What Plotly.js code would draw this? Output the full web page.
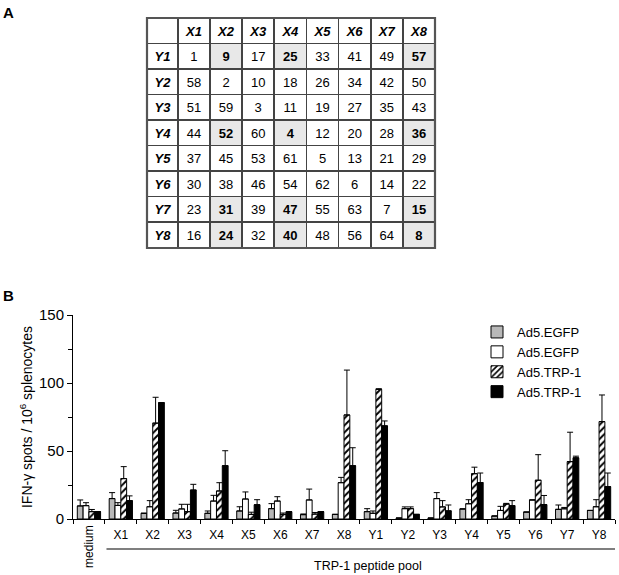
<!DOCTYPE html>
<html>
<head>
<meta charset="utf-8">
<script src="https://cdn.plot.ly/plotly-3.0.1.min.js"></script>
<style>html,body{margin:0;padding:0;background:#fff;}#chart{width:619px;height:575px;}</style>
</head>
<body>
<div id="chart"></div>
<script>
// ---------- Panel A data ----------
var colLabels = ['X1','X2','X3','X4','X5','X6','X7','X8'];
var rowLabels = ['Y1','Y2','Y3','Y4','Y5','Y6','Y7','Y8'];
var gridY1 = [1, 9, 17, 25, 33, 41, 49, 57];
var gridY2 = [58, 2, 10, 18, 26, 34, 42, 50];
var gridY3 = [51, 59, 3, 11, 19, 27, 35, 43];
var gridY4 = [44, 52, 60, 4, 12, 20, 28, 36];
var gridY5 = [37, 45, 53, 61, 5, 13, 21, 29];
var gridY6 = [30, 38, 46, 54, 62, 6, 14, 22];
var gridY7 = [23, 31, 39, 47, 55, 63, 7, 15];
var gridY8 = [16, 24, 32, 40, 48, 56, 64, 8];
var highlightRows = ['Y1','Y4','Y7','Y8'];
var highlightCols = ['X2','X4','X8'];

// ---------- Panel B data ----------
var categories = ['medium','X1','X2','X3','X4','X5','X6','X7','X8','Y1','Y2','Y3','Y4','Y5','Y6','Y7','Y8'];
var seriesNames = ['Ad5.EGFP','Ad5.EGFP','Ad5.TRP-1','Ad5.TRP-1'];
var egfpA     = [9.6, 15, 4.2, 4.4, 4.2, 5.9, 7.6, 3.2, 3.4, 5.4, 0.7, 0.7, 7.4, 2.2, 5.1, 7.1, 6.3];
var egfpAErr  = [4.4, 4.4, null, 2.0, 1.7, 3.1, 3.7, 0.5, null, 2.2, null, null, null, null, null, 3.2, null];
var egfpB     = [9.8, 10, 9, 7.4, 13.2, 14.7, 13.2, 14, 26.7, 4.2, 7.6, 15, 11.2, 6.3, 14, 7.5, 9];
var egfpBErr  = [2.2, 2.0, 4.5, 3.4, 4.2, 5.2, 3.2, 8.0, 3.9, 1.7, 1.3, 4.4, 3.0, 3.0, null, 1.0, 5.2];
var trpA      = [5.4, 29.7, 70.5, 5.4, 20.6, 3.4, 3.4, 3.6, 76.5, 95.3, 7.6, 8.9, 33.3, 11, 28.5, 42.2, 71.6];
var trpAErr   = [1.6, 8.8, 19, 5.4, 6.1, 1.6, 1.0, 1.2, 33, 0.5, 1.3, 4.6, 4.8, 0.5, 18.8, 21.6, 19.6];
var trpB      = [5.4, 13.5, 85.5, 21.3, 39.2, 10.5, 5.4, 5.4, 39.2, 68.5, 3.4, 6.0, 26.8, 9.8, 10.6, 45, 23.8];
var trpBErr   = [null, 3.5, null, 4.2, 11, 3.7, null, null, 13.2, 3.6, null, 4.3, 7.0, 3.7, 6.7, 1.2, 10];

var FONT = 'Liberation Sans, Arial, sans-serif';

// ---------- build table (no markup, so rows keep their height) ----------
var gridRows = [gridY1, gridY2, gridY3, gridY4, gridY5, gridY6, gridY7, gridY8];
var cellCols = [rowLabels.slice()];
var fillCols = [rowLabels.map(function(){return '#ffffff';})];
var weightCols = [rowLabels.map(function(){return 'bold';})];
var styleCols = [rowLabels.map(function(){return 'italic';})];
colLabels.forEach(function(c, ci){
  var vals = [], fills = [], weights = [], styles = [];
  rowLabels.forEach(function(r, ri){
    var hl = highlightRows.indexOf(r) >= 0 && highlightCols.indexOf(c) >= 0;
    vals.push(String(gridRows[ri][ci]));
    fills.push(hl ? '#e8e8e8' : '#ffffff');
    weights.push(hl ? 'bold' : 'normal');
    styles.push('normal');
  });
  cellCols.push(vals); fillCols.push(fills); weightCols.push(weights); styleCols.push(styles);
});
var headerVals = [' '].concat(colLabels);

var W = 619, H = 575;
var tblL = 147, tblR = 435, tblT = 18, tblB = 248;

var tableTrace = {
  type: 'table',
  domain: {x: [tblL / W, tblR / W], y: [1 - tblB / H, 1 - tblT / H]},
  columnwidth: [30.7, 32, 32, 32, 32, 32, 32, 32, 32],
  header: {
    values: headerVals, height: 25.5, align: 'center',
    fill: {color: '#ffffff'},
    line: {color: '#444444', width: 1.6},
    font: {family: FONT, size: 13, color: '#000', weight: 'bold', style: 'italic'}
  },
  cells: {
    values: cellCols, height: 25.5, align: 'center',
    fill: {color: fillCols},
    line: {color: '#444444', width: 1.6},
    font: {family: FONT, size: 13, color: '#000', weight: weightCols, style: styleCols}
  },
  showlegend: false
};

// ---------- bars ----------
function barTrace(name, vals, errs, style) {
  var t = {
    type: 'bar', name: name, x: categories, y: vals,
    marker: {color: style.color, line: {color: '#000', width: 1}},
    error_y: {type: 'data', symmetric: false, array: errs,
              arrayminus: errs.map(function(){return 0;}),
              color: '#000', thickness: 1, width: 3},
    xaxis: 'x', yaxis: 'y'
  };
  if (style.pattern) t.marker.pattern = style.pattern;
  return t;
}
var traces = [
  tableTrace,
  barTrace(seriesNames[0], egfpA, egfpAErr, {color: '#b8b8b8'}),
  barTrace(seriesNames[1], egfpB, egfpBErr, {color: '#ffffff'}),
  barTrace(seriesNames[2], trpA, trpAErr, {color: '#ffffff',
      pattern: {shape: '/', fgcolor: '#000', bgcolor: '#ffffff', size: 5, solidity: 0.4, fillmode: 'replace'}}),
  barTrace(seriesNames[3], trpB, trpBErr, {color: '#000000'})
];

var axL = 73, axR = 615, axTop = 315, axBot = 519;

var layout = {
  width: W, height: H,
  margin: {l: 0, r: 0, t: 0, b: 0},
  paper_bgcolor: '#fff', plot_bgcolor: 'rgba(0,0,0,0)',
  font: {family: FONT, color: '#000'},
  barmode: 'group', bargap: 0.27, bargroupgap: 0,
  showlegend: true,
  legend: {x: 477 / W, y: 1 - 317 / H, xanchor: 'left', yanchor: 'top',
           font: {family: FONT, size: 13}, bgcolor: 'rgba(0,0,0,0)', tracegroupgap: 0},
  xaxis: {
    domain: [axL / W, axR / W], type: 'category', categoryorder: 'array', categoryarray: categories,
    range: [-0.5, categories.length - 0.5],
    tickvals: categories, ticktext: categories.map(function(c){return c === 'medium' ? '' : c;}),
    tickfont: {size: 12}, ticks: 'outside', tickson: 'boundaries', ticklen: 4, tickcolor: '#000',
    ticklabelstandoff: 5,
    showline: true, linecolor: '#000', linewidth: 1, showgrid: false, zeroline: false, fixedrange: true
  },
  yaxis: {
    domain: [1 - axBot / H, 1 - axTop / H], range: [0, 150],
    tickvals: [0, 50, 100, 150], tickfont: {size: 15},
    ticks: 'outside', ticklen: 5, tickcolor: '#000',
    minor: {tickvals: [25, 75, 125], ticks: 'outside', ticklen: 4, tickcolor: '#000'},
    showline: true, linecolor: '#000', linewidth: 1, showgrid: false, zeroline: false,
    title: {text: 'IFN-\u03b3 spots / 10<sup>6</sup> splenocytes', font: {size: 14}, standoff: 3},
    fixedrange: true
  },
  shapes: [
    {type: 'rect', xref: 'paper', yref: 'paper', x0: tblL / W, x1: tblR / W,
     y0: 1 - tblB / H, y1: 1 - tblT / H, line: {color: '#555555', width: 2.2}},
    {type: 'line', xref: 'x', yref: 'paper', x0: 0.55, x1: categories.length - 0.5,
     y0: 1 - 549 / H, y1: 1 - 549 / H, line: {color: '#000', width: 1.2}}
  ],
  annotations: [
    {text: '<b>A</b>', xref: 'paper', yref: 'paper', x: 8 / W, y: 1 - 12 / H,
     xanchor: 'center', yanchor: 'middle', showarrow: false, font: {size: 15}},
    {text: '<b>B</b>', xref: 'paper', yref: 'paper', x: 8 / W, y: 1 - 295 / H,
     xanchor: 'center', yanchor: 'middle', showarrow: false, font: {size: 15}},
    {text: 'medium', xref: 'x', yref: 'paper', x: 'medium', y: 1 - 546 / H,
     xanchor: 'center', yanchor: 'middle', textangle: -90, showarrow: false, font: {size: 12}},
    {text: 'TRP-1 peptide pool', xref: 'x', yref: 'paper', x: 8.75, y: 1 - 566 / H,
     xanchor: 'center', yanchor: 'middle', showarrow: false, font: {size: 12.5}}
  ]
};

Plotly.newPlot('chart', traces, layout, {displayModeBar: false, staticPlot: true});
</script>
</body>
</html>
